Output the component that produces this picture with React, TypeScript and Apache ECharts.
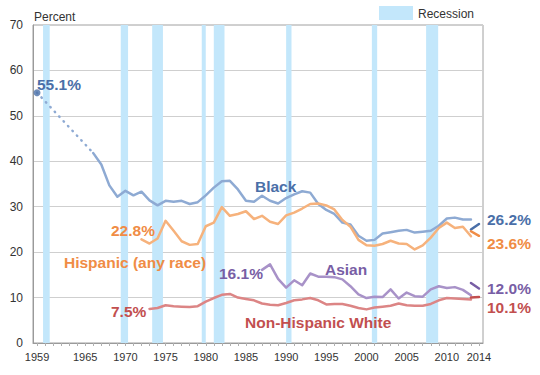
import React, { useEffect, useRef } from "react";
import * as echarts from "echarts";

// ---- Data (percent in poverty) ----
const blackFirstYear = 1959;
const blackFirstValue = 55.1;
const blackStartYear = 1966;
const blackValues = [
  41.8, 39.3, 34.7, 32.2, 33.5, 32.5, 33.3, 31.4, 30.3, 31.3,
  31.1, 31.3, 30.6, 31.0, 32.5, 34.2, 35.6, 35.7, 33.8, 31.3,
  31.1, 32.4, 31.3, 30.7, 31.9, 32.7, 33.4, 33.1, 30.6, 29.3,
  28.4, 26.5, 26.1, 23.6, 22.5, 22.7, 24.1, 24.4, 24.7, 24.9,
  24.3, 24.5, 24.7, 25.8, 27.4, 27.6, 27.2, 27.2,
];
const hispanicStartYear = 1972;
const hispanicValues = [
  22.8, 21.9, 23.0, 26.9, 24.7, 22.4, 21.6, 21.8, 25.7, 26.5,
  29.9, 28.0, 28.4, 29.0, 27.3, 28.0, 26.7, 26.2, 28.1, 28.7,
  29.6, 30.6, 30.7, 30.3, 29.4, 27.1, 25.6, 22.7, 21.5, 21.4,
  21.8, 22.5, 21.9, 21.8, 20.6, 21.5, 23.2, 25.3, 26.5, 25.3,
  25.6, 23.5,
];
const asianStartYear = 1987;
const asianValues = [
  16.1, 17.3, 14.1, 12.2, 13.8, 12.7, 15.3, 14.6, 14.6, 14.5,
  14.0, 12.5, 10.7, 9.9, 10.2, 10.1, 11.8, 9.8, 11.1, 10.3,
  10.2, 11.8, 12.5, 12.1, 12.3, 11.7, 10.5,
];
const whiteStartYear = 1973;
const whiteValues = [
  7.5, 7.7, 8.3, 8.1, 8.0, 7.9, 8.1, 9.1, 9.9, 10.6,
  10.8, 10.0, 9.7, 9.4, 8.7, 8.4, 8.3, 8.8, 9.4, 9.6,
  9.9, 9.4, 8.5, 8.6, 8.6, 8.2, 7.7, 7.4, 7.8, 8.0,
  8.2, 8.7, 8.3, 8.2, 8.2, 8.6, 9.4, 9.9, 9.8, 9.7,
  9.6,
];
// 2013 (redesigned questionnaire) and 2014
const endYears = [2013, 2014];
const blackEnd = [25.0, 26.2];
const hispanicEnd = [24.6, 23.6];
const asianEnd = [13.2, 12.0];
const whiteEnd = [10.0, 10.1];

const recessionStarts = [1959.75, 1969.42, 1973.33, 1979.5, 1981.0, 1990.0, 2000.67, 2007.42];
const recessionEnds = [1960.58, 1970.33, 1974.67, 1980.0, 1982.33, 1990.67, 2001.33, 2008.92];

const xLabelYears = [1959, 1965, 1970, 1975, 1980, 1985, 1990, 1995, 2000, 2005, 2010, 2014];
const tickYears = Array.from({ length: 56 }, (_, i) => 1959 + i);

const toPairs = (start: number, vals: number[]) => vals.map((v, i) => [start + i, v]);

const C = {
  blueLine: "#8eaad3",
  blueDark: "#4a6fa8",
  orangeLine: "#f6b27c",
  orangeDark: "#f08c45",
  purpleLine: "#a892c8",
  purpleDark: "#785ea5",
  redLine: "#dc8585",
  redDark: "#c24f4f",
  band: "#c3e7fb",
};

const FONT = '"Liberation Sans", Arial, sans-serif';

export default function App() {
  const ref = useRef<HTMLDivElement>(null);
  useEffect(() => {
    if (!ref.current) return;
    const chart = echarts.init(ref.current, null, { renderer: "svg" });
    const lineSeries = (data: number[][], color: string, width = 2.5, extra: any = {}) => ({
      type: "line",
      data,
      showSymbol: false,
      symbol: "none",
      z: 3,
      lineStyle: { color, width, cap: "round", join: "round" },
      ...extra,
    });
    const label = (text: string, x: number, y: number, fill: string) => ({
      type: "text",
      x,
      y,
      z: 100,
      style: {
        text,
        fill,
        fontFamily: FONT,
        fontWeight: "bold",
        fontSize: 15.5,
        verticalAlign: "middle",
      },
    });
    chart.setOption({
      animation: false,
      grid: { left: 33, top: 25, right: 57, bottom: 32, show: true, borderColor: "#a0a0a0", borderWidth: 1 },
      xAxis: {
        type: "value",
        min: 1958.5,
        max: 2014.5,
        axisLine: { show: true, lineStyle: { color: "#9a9a9a" } },
        axisTick: { show: true, customValues: tickYears, length: 3, lineStyle: { color: "#b0b0b0" } },
        axisLabel: {
          customValues: xLabelYears,
          formatter: (v: number) => String(v),
          fontFamily: FONT,
          fontSize: 11,
          color: "#333",
          margin: 8,
        },
        splitLine: { show: false },
      },
      yAxis: {
        type: "value",
        min: 0,
        max: 70,
        interval: 10,
        axisLine: { show: true, lineStyle: { color: "#9a9a9a" } },
        axisTick: { show: false },
        axisLabel: { fontFamily: FONT, fontSize: 12, color: "#333", margin: 10 },
        splitLine: { show: true, lineStyle: { color: "#cfcfcf", width: 1 } },
      },
      series: [
        {
          type: "line",
          data: [],
          z: 1,
          markArea: {
            silent: true,
            itemStyle: { color: C.band },
            data: recessionStarts.map((s, i) => [{ xAxis: s }, { xAxis: recessionEnds[i] }]),
          },
        },
        lineSeries([[blackFirstYear, blackFirstValue], [blackStartYear, blackValues[0]]], C.blueLine, 2.5, {
          lineStyle: { color: C.blueLine, width: 2.5, type: [0.5, 6], cap: "round" },
        }),
        lineSeries(toPairs(blackStartYear, blackValues), C.blueLine),
        lineSeries(toPairs(hispanicStartYear, hispanicValues), C.orangeLine),
        lineSeries(toPairs(asianStartYear, asianValues), C.purpleLine),
        lineSeries(toPairs(whiteStartYear, whiteValues), C.redLine),
        lineSeries(endYears.map((y, i) => [y, blackEnd[i]]), C.blueDark),
        lineSeries(endYears.map((y, i) => [y, hispanicEnd[i]]), C.orangeDark),
        lineSeries(endYears.map((y, i) => [y, asianEnd[i]]), C.purpleDark),
        lineSeries(endYears.map((y, i) => [y, whiteEnd[i]]), C.redDark),
        {
          type: "scatter",
          data: [[blackFirstYear, blackFirstValue]],
          symbolSize: 7,
          z: 4,
          itemStyle: { color: C.blueDark },
        },
      ],
      graphic: [
        {
          type: "text",
          x: 34,
          y: 17,
          z: 100,
          style: { text: "Percent", fill: "#333", fontFamily: FONT, fontSize: 12, verticalAlign: "middle" },
        },
        {
          type: "rect",
          z: 100,
          shape: { x: 379, y: 6, width: 34, height: 14 },
          style: { fill: C.band },
        },
        {
          type: "text",
          x: 418,
          y: 14,
          z: 100,
          style: { text: "Recession", fill: "#333", fontFamily: FONT, fontSize: 12, verticalAlign: "middle" },
        },
        label("55.1%", 37, 84, C.blueDark),
        label("Black", 255, 186, C.blueDark),
        label("22.8%", 111, 230, C.orangeDark),
        label("Hispanic (any race)", 64, 262, C.orangeDark),
        label("16.1%", 219, 273, C.purpleDark),
        label("Asian", 325, 269, C.purpleDark),
        label("7.5%", 111, 311, C.redDark),
        label("Non-Hispanic White", 245, 322, C.redDark),
        label("26.2%", 487, 219, C.blueDark),
        label("23.6%", 487, 243, C.orangeDark),
        label("12.0%", 487, 288, C.purpleDark),
        label("10.1%", 487, 307, C.redDark),
      ],
    });
    return () => chart.dispose();
  }, []);
  return <div ref={ref} style={{ width: 540, height: 375, position: "absolute", left: 0, top: 0 }} />;
}
